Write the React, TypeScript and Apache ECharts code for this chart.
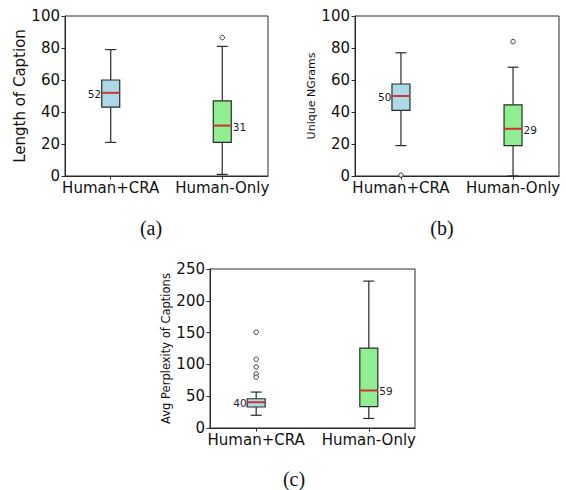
import React, { useEffect, useRef } from "react";
import * as echarts from "echarts";

const categories = ["Human+CRA", "Human-Only"];
const boxColors = ["#add8e6", "#90ee90"];

// [position, lower whisker, Q1, median, Q3, upper whisker]
const lengthStats = [
  [1, 21, 43, 52, 60, 79],
  [2, 1, 21, 31.5, 47, 81],
];
const lengthOutliers = [[2, 86.5]];

const ngramStats = [
  [1, 19, 41, 50, 57.5, 77],
  [2, 0, 19, 29.5, 44.5, 68],
];
const ngramOutliers = [
  [1, 0.5],
  [2, 84],
];

const perplexityStats = [
  [1, 20, 33, 40.5, 46, 56.5],
  [2, 15, 33.5, 59, 125.5, 231],
];
const perplexityOutliers = [
  [1, 150.5],
  [1, 108],
  [1, 96],
  [1, 85],
  [1, 80],
];

const yTicksA = { min: 0, max: 100, interval: 20 };
const yTicksC = { min: 0, max: 250, interval: 50 };

const FONT = "DejaVu Sans";
const EDGE = "#2a2a2a";

function renderBox(params: any, api: any) {
  const x = api.value(0);
  const pMin = api.coord([x, api.value(1)]);
  const pQ1 = api.coord([x, api.value(2)]);
  const pMed = api.coord([x, api.value(3)]);
  const pQ3 = api.coord([x, api.value(4)]);
  const pMax = api.coord([x, api.value(5)]);
  const cx = pMed[0];
  const hw = 9;
  const cw = 5.5;
  const idx = params.dataIndex;
  const lineStyle = { stroke: EDGE, lineWidth: 1.2 };
  const left = idx === 0;
  return {
    type: "group",
    children: [
      { type: "line", shape: { x1: cx, y1: pQ3[1], x2: cx, y2: pMax[1] }, style: lineStyle },
      { type: "line", shape: { x1: cx, y1: pQ1[1], x2: cx, y2: pMin[1] }, style: lineStyle },
      { type: "line", shape: { x1: cx - cw, y1: pMax[1], x2: cx + cw, y2: pMax[1] }, style: lineStyle },
      { type: "line", shape: { x1: cx - cw, y1: pMin[1], x2: cx + cw, y2: pMin[1] }, style: lineStyle },
      {
        type: "rect",
        shape: { x: cx - hw, y: pQ3[1], width: hw * 2, height: pQ1[1] - pQ3[1] },
        style: { fill: boxColors[idx], stroke: EDGE, lineWidth: 1.2 },
      },
      {
        type: "line",
        shape: { x1: cx - hw, y1: pMed[1], x2: cx + hw, y2: pMed[1] },
        style: { stroke: "#cc3333", lineWidth: 2 },
      },
      {
        type: "text",
        x: left ? cx - hw - 0.5 : cx + hw + 1.5,
        y: pMed[1] + 1,
        style: {
          text: String(Math.floor(api.value(3))),
          fontFamily: FONT,
          fontSize: 10.5,
          fill: "#222",
          align: left ? "right" : "left",
          verticalAlign: "middle",
        },
      },
    ],
  };
}

function xAxisFor(gridIndex: number) {
  return {
    type: "value",
    gridIndex,
    min: 0.59,
    max: 2.41,
    axisLine: { show: true, lineStyle: { color: EDGE, width: 1 } },
    axisTick: { show: true, length: 3.5, customValues: [1, 2], lineStyle: { color: EDGE } },
    axisLabel: {
      customValues: [1, 2],
      formatter: (v: number) => categories[Math.round(v) - 1] ?? "",
      fontFamily: FONT,
      fontSize: 15,
      color: "#111",
      margin: 4,
    },
    splitLine: { show: false },
  };
}

function yAxisFor(gridIndex: number, ticks: any, name: string, nameSize: number, gap: number) {
  return {
    type: "value",
    gridIndex,
    min: ticks.min,
    max: ticks.max,
    interval: ticks.interval,
    name,
    nameLocation: "middle",
    nameRotate: 90,
    nameGap: gap,
    nameTextStyle: { fontFamily: FONT, fontSize: nameSize, color: "#111" },
    axisLine: { show: true, lineStyle: { color: EDGE, width: 1 } },
    axisTick: { show: true, length: 3.5, lineStyle: { color: EDGE } },
    axisLabel: { fontFamily: FONT, fontSize: 15, color: "#111", margin: 5 },
    splitLine: { show: false },
  };
}

function boxSeries(axisIndex: number, data: number[][]) {
  return {
    type: "custom",
    xAxisIndex: axisIndex,
    yAxisIndex: axisIndex,
    renderItem: renderBox,
    encode: { x: 0, y: [1, 2, 3, 4, 5] },
    data,
    clip: false,
    silent: true,
    z: 2,
  };
}

function outlierSeries(axisIndex: number, data: number[][]) {
  return {
    type: "scatter",
    xAxisIndex: axisIndex,
    yAxisIndex: axisIndex,
    data,
    symbol: "circle",
    symbolSize: 4.5,
    itemStyle: { color: "#ffffff", borderColor: "#111", borderWidth: 1 },
    silent: true,
    z: 3,
  };
}

export default function App() {
  const ref = useRef<HTMLDivElement>(null);

  useEffect(() => {
    document.body.style.margin = "0";
    if (!ref.current) return;
    const chart = echarts.init(ref.current, undefined, { renderer: "svg" });
    const gridStyle = { show: true, borderColor: EDGE, borderWidth: 1, backgroundColor: "transparent" };
    chart.setOption({
      animation: false,
      backgroundColor: "#ffffff",
      grid: [
        { left: 65, top: 16, width: 203, height: 160, ...gridStyle },
        { left: 355, top: 16, width: 204, height: 160, ...gridStyle },
        { left: 210, top: 269, width: 205, height: 159, ...gridStyle },
      ],
      xAxis: [xAxisFor(0), xAxisFor(1), xAxisFor(2)],
      yAxis: [
        yAxisFor(0, yTicksA, "Length of Caption", 15, 33),
        yAxisFor(1, yTicksA, "Unique NGrams", 11, 35),
        yAxisFor(2, yTicksC, "Avg Perplexity of Captions", 11.5, 35),
      ],
      series: [
        boxSeries(0, lengthStats),
        outlierSeries(0, lengthOutliers),
        boxSeries(1, ngramStats),
        outlierSeries(1, ngramOutliers),
        boxSeries(2, perplexityStats),
        outlierSeries(2, perplexityOutliers),
      ],
      graphic: [
        { type: "text", x: 151, y: 228, style: { text: "(a)", fontFamily: "Liberation Serif", fontSize: 20, fill: "#111", align: "center", verticalAlign: "middle" } },
        { type: "text", x: 442, y: 228, style: { text: "(b)", fontFamily: "Liberation Serif", fontSize: 20, fill: "#111", align: "center", verticalAlign: "middle" } },
        { type: "text", x: 294, y: 479, style: { text: "(c)", fontFamily: "Liberation Serif", fontSize: 20, fill: "#111", align: "center", verticalAlign: "middle" } },
      ],
    });
    return () => chart.dispose();
  }, []);

  return <div ref={ref} style={{ width: 566, height: 490 }} />;
}
